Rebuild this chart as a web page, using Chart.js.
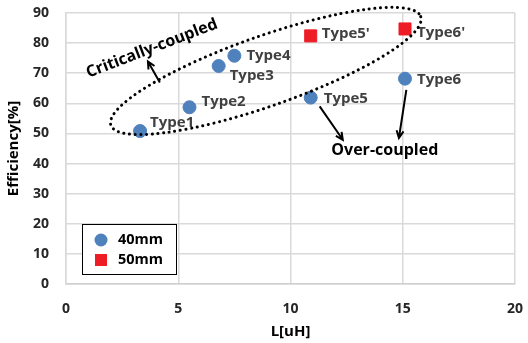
<!DOCTYPE html>
<html>
<head>
<meta charset="utf-8">
<script src="https://cdn.jsdelivr.net/npm/chart.js@4/dist/chart.umd.min.js"></script>
<style>
    html, body { margin: 0; padding: 0; background: #fff; }
</style>
</head>
<body>
<canvas id="myChart" width="528" height="343"></canvas>
<script>
// 40mm series
const inductance40 = [3.3, 5.5, 6.8, 7.5, 10.9, 15.1]
const efficiency40 = [50.8, 58.7, 72.4, 75.8, 61.9, 68.2]
const names40 = ['Type1', 'Type2', 'Type3', 'Type4', 'Type5', 'Type6']

// 50mm series
const inductance50 = [10.9, 15.1]
const efficiency50 = [82.4, 84.7]
const names50 = ["Type5'", "Type6'"]

const seriesNames = ['40mm', '50mm']

// annotations, in data units
const ellipseEnds = [[2.0, 52.7], [15.8, 88.8]]
const arrowsFrom = [[4.18, 66.9], [11.3, 59.0], [15.16, 64.5]]
const arrowsTo = [[3.65, 73.9], [12.33, 47.9], [14.83, 48.5]]
const noteTexts = ['Critically-coupled', 'Over-coupled']
const notePoints = [[3.83, 78.2], [14.2, 44.3]]

// pixel offsets of the point labels
const labelOffsets40 = [[10, -8], [12, -6], [11, 10], [12, 0], [13, 1], [12, 1]]
const labelOffsets50 = [[11, -2], [12, 4]]

const FONT = "'Open Sans', 'Noto Sans', sans-serif"

function toPoints(xs, ys) {
    return xs.map((x, i) => ({x: x, y: ys[i]}))
}

const pointLabels = {
    id: 'pointLabels',
    afterDatasetsDraw(chart) {
        const ctx = chart.ctx
        const names = [names40, names50]
        const offs = [labelOffsets40, labelOffsets50]
        ctx.save()
        ctx.font = 'bold 15px ' + FONT
        ctx.fillStyle = '#404040'
        ctx.textAlign = 'left'
        ctx.textBaseline = 'middle'
        chart.data.datasets.forEach((ds, d) => {
            chart.getDatasetMeta(d).data.forEach((el, i) => {
                ctx.fillText(names[d][i], el.x + offs[d][i][0], el.y + offs[d][i][1])
            })
        })
        ctx.restore()
    }
}

const notes = {
    id: 'notes',
    afterDatasetsDraw(chart) {
        const ctx = chart.ctx
        const xs = chart.scales.x, ys = chart.scales.y
        const px = p => [xs.getPixelForValue(p[0]), ys.getPixelForValue(p[1])]
        ctx.save()

        // dotted ellipse
        const a = px(ellipseEnds[0]), b = px(ellipseEnds[1])
        const cx = (a[0] + b[0]) / 2, cy = (a[1] + b[1]) / 2
        const rx = Math.hypot(b[0] - a[0], b[1] - a[1]) / 2
        const ang = Math.atan2(b[1] - a[1], b[0] - a[0])
        ctx.beginPath()
        ctx.ellipse(cx, cy, rx, 35, ang, 0, Math.PI * 2)
        ctx.strokeStyle = '#000'
        ctx.lineWidth = 3
        ctx.lineCap = 'round'
        ctx.setLineDash([0.1, 5.6])
        ctx.stroke()
        ctx.setLineDash([])

        // arrows
        ctx.lineWidth = 2
        ctx.lineCap = 'butt'
        arrowsFrom.forEach((f, i) => {
            const p0 = px(f), p1 = px(arrowsTo[i])
            const t = Math.atan2(p1[1] - p0[1], p1[0] - p0[0])
            ctx.beginPath()
            ctx.moveTo(p0[0], p0[1])
            ctx.lineTo(p1[0], p1[1])
            ctx.moveTo(p1[0] - 8 * Math.cos(t - 0.45), p1[1] - 8 * Math.sin(t - 0.45))
            ctx.lineTo(p1[0], p1[1])
            ctx.lineTo(p1[0] - 8 * Math.cos(t + 0.45), p1[1] - 8 * Math.sin(t + 0.45))
            ctx.stroke()
        })

        // texts
        ctx.fillStyle = '#000'
        ctx.font = 'bold 16px ' + FONT
        ctx.textAlign = 'center'
        ctx.textBaseline = 'middle'
        let p = px(notePoints[0])
        ctx.translate(p[0], p[1])
        ctx.rotate(-21 * Math.PI / 180)
        ctx.fillText(noteTexts[0], 0, 0)
        ctx.setTransform(1, 0, 0, 1, 0, 0)
        p = px(notePoints[1])
        ctx.fillText(noteTexts[1], p[0], p[1])
        ctx.restore()
    }
}

const boxLegend = {
    id: 'boxLegend',
    afterDraw(chart) {
        const ctx = chart.ctx
        const area = chart.chartArea
        const left = area.left + 16, top = area.bottom - 60
        ctx.save()
        ctx.fillStyle = '#fff'
        ctx.fillRect(left, top, 94, 50)
        ctx.strokeStyle = '#000'
        ctx.lineWidth = 1
        ctx.strokeRect(left + 0.5, top + 0.5, 94, 50)
        chart.data.datasets.forEach((ds, i) => {
            const y = top + 16 + i * 20
            ctx.fillStyle = ds.backgroundColor
            if (ds.pointStyle === 'rect') {
                ctx.fillRect(left + 13, y - 6, 12, 12)
            } else {
                ctx.beginPath()
                ctx.arc(left + 19, y, 6.5, 0, Math.PI * 2)
                ctx.fill()
            }
            ctx.fillStyle = '#000'
            ctx.font = 'bold 14.5px ' + FONT
            ctx.textBaseline = 'middle'
            ctx.fillText(seriesNames[i], left + 36, y)
        })
        ctx.restore()
    }
}

const data = {
    datasets: [{
        label: seriesNames[0],
        data: toPoints(inductance40, efficiency40),
        backgroundColor: '#4f81bd',
        borderColor: '#4f81bd',
        pointStyle: 'circle',
        pointRadius: 6.5,
        pointHoverRadius: 6.5,
    }, {
        label: seriesNames[1],
        data: toPoints(inductance50, efficiency50),
        backgroundColor: '#ee1c25',
        borderColor: '#ee1c25',
        pointStyle: 'rect',
        pointRadius: 8.5,
        pointHoverRadius: 8.5,
    }]
}

const tickFont = {family: FONT, size: 14, weight: 'bold'}
const titleFont = {family: FONT, size: 15, weight: 'bold'}

new Chart(document.getElementById('myChart').getContext('2d'), {
    type: 'scatter',
    data: data,
    options: {
        responsive: false,
        devicePixelRatio: 1,
        animation: false,
        layout: {padding: {left: 0, right: 13, top: 13, bottom: 0}},
        plugins: {
            legend: {display: false},
            tooltip: {enabled: false}
        },
        scales: {
            x: {
                type: 'linear',
                min: 0,
                max: 20,
                afterFit: s => { s.height = 59; s.paddingLeft = 0; s.paddingRight = 0 },
                ticks: {stepSize: 5, font: tickFont, color: '#262626', padding: 17},
                grid: {color: '#d9d9d9', lineWidth: 1.5, drawTicks: false},
                border: {color: '#d0d0d0', width: 1.5},
                title: {display: true, text: 'L[uH]', font: titleFont, color: '#000', padding: {top: 0, bottom: 2}}
            },
            y: {
                min: 0,
                max: 90,
                afterFit: s => { s.width = 66; s.paddingTop = 0; s.paddingBottom = 0 },
                ticks: {stepSize: 10, font: tickFont, color: '#262626', padding: 17},
                grid: {color: '#d9d9d9', lineWidth: 1.5, drawTicks: false},
                border: {color: '#d9d9d9', width: 1.5},
                title: {display: true, text: 'Efficiency[%]', font: titleFont, color: '#000', padding: {top: 5, bottom: 0}}
            }
        }
    },
    plugins: [pointLabels, notes, boxLegend]
})
</script>
</body>
</html>
